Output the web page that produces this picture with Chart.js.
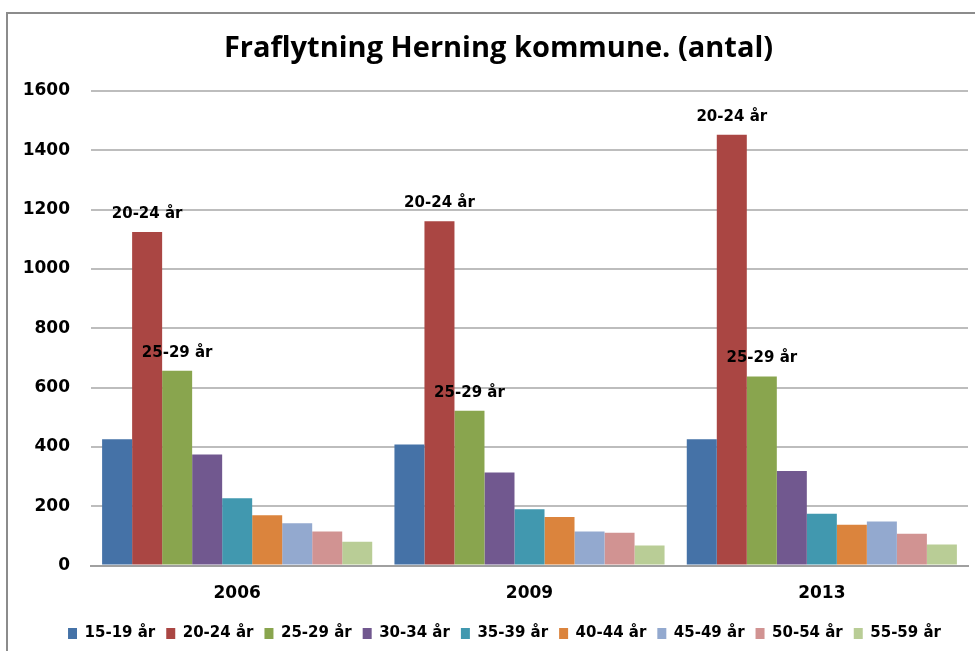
<!DOCTYPE html>
<html>
<head>
<meta charset="utf-8">
<script src="https://cdn.jsdelivr.net/npm/chart.js@4"></script>
<style>
  html, body { margin: 0; padding: 0; background: #fff; }
  #wrap { position: relative; width: 975px; height: 651px; overflow: hidden; }
  #frame { position: absolute; left: 6px; top: 12px; width: 1000px; height: 700px; border: 2px solid #8c8c8c; }
  #chart { position: absolute; left: 0; top: 0; }
</style>
</head>
<body>
<div id="wrap">
  <div id="frame"></div>
  <canvas id="chart" width="975" height="651"></canvas>
</div>
<script>
// data
const years = ["2006", "2009", "2013"];
const ageGroups = ["15-19 år", "20-24 år", "25-29 år", "30-34 år", "35-39 år", "40-44 år", "45-49 år", "50-54 år", "55-59 år"];
const age15to19 = [426, 408, 426];
const age20to24 = [1124, 1160, 1452];
const age25to29 = [657, 522, 637];
const age30to34 = [374, 314, 319];
const age35to39 = [227, 190, 175];
const age40to44 = [170, 164, 138];
const age45to49 = [143, 115, 149];
const age50to54 = [115, 111, 107];
const age55to59 = [80, 68, 71];
const yTicks = [0, 200, 400, 600, 800, 1000, 1200, 1400, 1600];
const labeledGroups = ["20-24 år", "25-29 år"];

const seriesValues = [age15to19, age20to24, age25to29, age30to34, age35to39, age40to44, age45to49, age50to54, age55to59];
const colors = ["#4572A7", "#AA4643", "#89A54E", "#71588F", "#4198AF", "#DB843D", "#93A9CF", "#D19392", "#B9CD96"];

const boldFont = "'DejaVu Sans', Verdana, sans-serif";

// draws the age group name above the bars of the labeled series
const barLabels = {
  id: "barLabels",
  afterDatasetsDraw(chart) {
    const ctx = chart.ctx;
    ctx.save();
    ctx.font = "bold 15px " + boldFont;
    ctx.fillStyle = "#000";
    ctx.textAlign = "center";
    ctx.textBaseline = "middle";
    chart.data.datasets.forEach((ds, i) => {
      if (!labeledGroups.includes(ds.label)) return;
      chart.getDatasetMeta(i).data.forEach((bar) => {
        ctx.fillText(ds.label, bar.x, bar.y - 18);
      });
    });
    ctx.restore();
  },
};

// nudge title and legend a bit, like in the original
const nudge = {
  id: "nudge",
  afterLayout(chart) {
    const t = chart.titleBlock;
    t.left += 7;
    t.right += 7;
    const lg = chart.legend;
    lg.left += 13;
    lg.right += 13;
    lg.top -= 7;
    lg.bottom -= 7;
  },
};

const ctx = document.getElementById("chart").getContext("2d");

const chart = new Chart(ctx, {
  type: "bar",
  data: {
    labels: years,
    datasets: ageGroups.map((name, i) => ({
      label: name,
      data: seriesValues[i],
      backgroundColor: colors[i],
      borderWidth: 0,
      barPercentage: 1,
      categoryPercentage: 0.924,
    })),
  },
  options: {
    responsive: false,
    animation: false,
    layout: {
      padding: { left: 15, right: 7, top: 0, bottom: -7 },
    },
    plugins: {
      title: {
        display: true,
        text: "Fraflytning Herning kommune. (antal)",
        color: "#000",
        font: { family: "'Open Sans', sans-serif", size: 29, weight: "bold" },
        padding: { top: 31, bottom: 25 },
      },
      legend: {
        position: "bottom",
        labels: {
          color: "#000",
          boxWidth: 9,
          boxHeight: 11,
          padding: 11,
          font: { family: boldFont, size: 15, weight: "bold" },
        },
      },
      tooltip: { enabled: false },
    },
    scales: {
      x: {
        grid: { display: false, drawTicks: false },
        border: { display: true, color: "#a0a0a0", width: 2 },
        ticks: {
          color: "#000",
          padding: 18,
          font: { family: boldFont, size: 17, weight: "bold" },
        },
      },
      y: {
        min: 0,
        max: 1600,
        afterBuildTicks(scale) {
          scale.ticks = yTicks.map((v) => ({ value: v }));
        },
        afterFit(scale) {
          scale.width = 76;
        },
        grid: { color: "#bdbdbd", lineWidth: 2, drawTicks: false },
        border: { display: false },
        ticks: {
          color: "#000",
          padding: 21,
          font: { family: boldFont, size: 17, weight: "bold" },
          callback: (v) => String(v),
        },
      },
    },
  },
  plugins: [barLabels, nudge],
});
</script>
</body>
</html>
